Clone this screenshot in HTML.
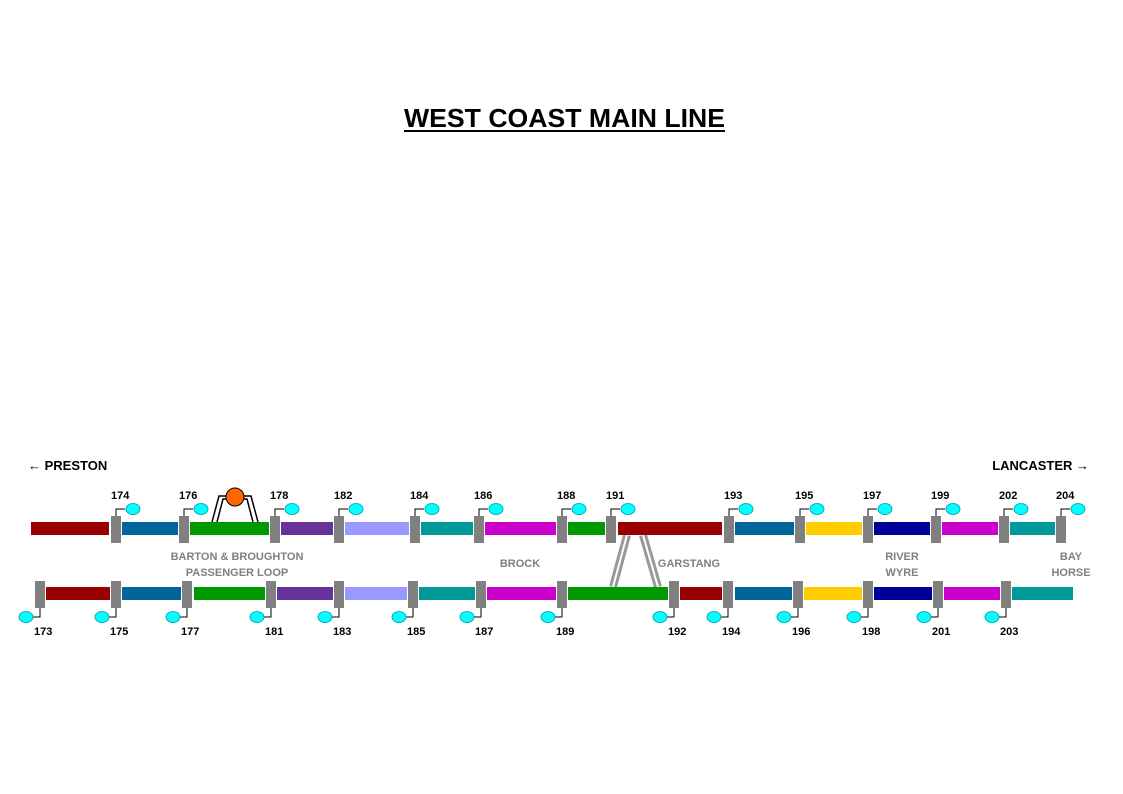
<!DOCTYPE html>
<html><head><style>body{margin:0;background:#fff}svg{display:block}</style></head><body>
<svg width="1123" height="794" xmlns="http://www.w3.org/2000/svg" font-family="Liberation Sans, Arial, sans-serif">
<text x="404" y="127" font-size="26" font-weight="bold" textLength="321" lengthAdjust="spacingAndGlyphs">WEST COAST MAIN LINE</text>
<line x1="404" y1="131" x2="725" y2="131" stroke="#000" stroke-width="2"/>
<text x="28" y="470" font-size="13" font-weight="bold">← PRESTON</text>
<text x="1089" y="470" font-size="13" font-weight="bold" text-anchor="end">LANCASTER →</text>
<g stroke="#000" stroke-width="1.5" fill="none">
<path d="M212,522 L219,496 L226,496"/><path d="M217,522 L223,499 L227,499"/>
<path d="M258,522 L251,496 L244,496"/><path d="M253,522 L247,499 L243,499"/>
</g>
<circle cx="235" cy="497" r="9" fill="#f60" stroke="#000" stroke-width="1"/>
<g stroke="#999" stroke-width="8" fill="none"><line x1="627" y1="535" x2="613" y2="587"/><line x1="643" y1="535" x2="658" y2="587"/></g>
<g stroke="#fff" stroke-width="2" fill="none"><line x1="627" y1="535" x2="613" y2="587"/><line x1="643" y1="535" x2="658" y2="587"/></g>
<g>
<rect x="31" y="522" width="78" height="13" fill="#990000"/>
<rect x="122" y="522" width="56" height="13" fill="#006699"/>
<rect x="190" y="522" width="79" height="13" fill="#009900"/>
<rect x="281" y="522" width="52" height="13" fill="#663399"/>
<rect x="345" y="522" width="64" height="13" fill="#9999ff"/>
<rect x="421" y="522" width="52" height="13" fill="#009999"/>
<rect x="485" y="522" width="71" height="13" fill="#cc00cc"/>
<rect x="568" y="522" width="37" height="13" fill="#009900"/>
<rect x="618" y="522" width="104" height="13" fill="#990000"/>
<rect x="735" y="522" width="59" height="13" fill="#006699"/>
<rect x="806" y="522" width="56" height="13" fill="#ffcc00"/>
<rect x="874" y="522" width="56" height="13" fill="#000099"/>
<rect x="942" y="522" width="56" height="13" fill="#cc00cc"/>
<rect x="1010" y="522" width="45" height="13" fill="#009999"/>
</g>
<g>
<rect x="46" y="587" width="64" height="13" fill="#990000"/>
<rect x="122" y="587" width="59" height="13" fill="#006699"/>
<rect x="194" y="587" width="71" height="13" fill="#009900"/>
<rect x="277" y="587" width="56" height="13" fill="#663399"/>
<rect x="345" y="587" width="62" height="13" fill="#9999ff"/>
<rect x="419" y="587" width="56" height="13" fill="#009999"/>
<rect x="487" y="587" width="69" height="13" fill="#cc00cc"/>
<rect x="568" y="587" width="100" height="13" fill="#009900"/>
<rect x="680" y="587" width="42" height="13" fill="#990000"/>
<rect x="735" y="587" width="57" height="13" fill="#006699"/>
<rect x="804" y="587" width="58" height="13" fill="#ffcc00"/>
<rect x="874" y="587" width="58" height="13" fill="#000099"/>
<rect x="944" y="587" width="56" height="13" fill="#cc00cc"/>
<rect x="1012" y="587" width="61" height="13" fill="#009999"/>
</g>
<g font-size="11" font-weight="bold" fill="#000">
<g transform="translate(111,0)"><rect x="0" y="516" width="10" height="27" fill="#808080"/><path d="M5,516 V509 H14" stroke="#000" fill="none"/><ellipse cx="22" cy="509" rx="7" ry="5.5" fill="#00ffff" stroke="#0099aa" stroke-width="0.8"/><text x="0" y="499">174</text></g>
<g transform="translate(179,0)"><rect x="0" y="516" width="10" height="27" fill="#808080"/><path d="M5,516 V509 H14" stroke="#000" fill="none"/><ellipse cx="22" cy="509" rx="7" ry="5.5" fill="#00ffff" stroke="#0099aa" stroke-width="0.8"/><text x="0" y="499">176</text></g>
<g transform="translate(270,0)"><rect x="0" y="516" width="10" height="27" fill="#808080"/><path d="M5,516 V509 H14" stroke="#000" fill="none"/><ellipse cx="22" cy="509" rx="7" ry="5.5" fill="#00ffff" stroke="#0099aa" stroke-width="0.8"/><text x="0" y="499">178</text></g>
<g transform="translate(334,0)"><rect x="0" y="516" width="10" height="27" fill="#808080"/><path d="M5,516 V509 H14" stroke="#000" fill="none"/><ellipse cx="22" cy="509" rx="7" ry="5.5" fill="#00ffff" stroke="#0099aa" stroke-width="0.8"/><text x="0" y="499">182</text></g>
<g transform="translate(410,0)"><rect x="0" y="516" width="10" height="27" fill="#808080"/><path d="M5,516 V509 H14" stroke="#000" fill="none"/><ellipse cx="22" cy="509" rx="7" ry="5.5" fill="#00ffff" stroke="#0099aa" stroke-width="0.8"/><text x="0" y="499">184</text></g>
<g transform="translate(474,0)"><rect x="0" y="516" width="10" height="27" fill="#808080"/><path d="M5,516 V509 H14" stroke="#000" fill="none"/><ellipse cx="22" cy="509" rx="7" ry="5.5" fill="#00ffff" stroke="#0099aa" stroke-width="0.8"/><text x="0" y="499">186</text></g>
<g transform="translate(557,0)"><rect x="0" y="516" width="10" height="27" fill="#808080"/><path d="M5,516 V509 H14" stroke="#000" fill="none"/><ellipse cx="22" cy="509" rx="7" ry="5.5" fill="#00ffff" stroke="#0099aa" stroke-width="0.8"/><text x="0" y="499">188</text></g>
<g transform="translate(606,0)"><rect x="0" y="516" width="10" height="27" fill="#808080"/><path d="M5,516 V509 H14" stroke="#000" fill="none"/><ellipse cx="22" cy="509" rx="7" ry="5.5" fill="#00ffff" stroke="#0099aa" stroke-width="0.8"/><text x="0" y="499">191</text></g>
<g transform="translate(724,0)"><rect x="0" y="516" width="10" height="27" fill="#808080"/><path d="M5,516 V509 H14" stroke="#000" fill="none"/><ellipse cx="22" cy="509" rx="7" ry="5.5" fill="#00ffff" stroke="#0099aa" stroke-width="0.8"/><text x="0" y="499">193</text></g>
<g transform="translate(795,0)"><rect x="0" y="516" width="10" height="27" fill="#808080"/><path d="M5,516 V509 H14" stroke="#000" fill="none"/><ellipse cx="22" cy="509" rx="7" ry="5.5" fill="#00ffff" stroke="#0099aa" stroke-width="0.8"/><text x="0" y="499">195</text></g>
<g transform="translate(863,0)"><rect x="0" y="516" width="10" height="27" fill="#808080"/><path d="M5,516 V509 H14" stroke="#000" fill="none"/><ellipse cx="22" cy="509" rx="7" ry="5.5" fill="#00ffff" stroke="#0099aa" stroke-width="0.8"/><text x="0" y="499">197</text></g>
<g transform="translate(931,0)"><rect x="0" y="516" width="10" height="27" fill="#808080"/><path d="M5,516 V509 H14" stroke="#000" fill="none"/><ellipse cx="22" cy="509" rx="7" ry="5.5" fill="#00ffff" stroke="#0099aa" stroke-width="0.8"/><text x="0" y="499">199</text></g>
<g transform="translate(999,0)"><rect x="0" y="516" width="10" height="27" fill="#808080"/><path d="M5,516 V509 H14" stroke="#000" fill="none"/><ellipse cx="22" cy="509" rx="7" ry="5.5" fill="#00ffff" stroke="#0099aa" stroke-width="0.8"/><text x="0" y="499">202</text></g>
<g transform="translate(1056,0)"><rect x="0" y="516" width="10" height="27" fill="#808080"/><path d="M5,516 V509 H14" stroke="#000" fill="none"/><ellipse cx="22" cy="509" rx="7" ry="5.5" fill="#00ffff" stroke="#0099aa" stroke-width="0.8"/><text x="0" y="499">204</text></g>
</g>
<g font-size="11" font-weight="bold" fill="#000">
<g transform="translate(35,0)"><rect x="0" y="581" width="10" height="27" fill="#808080"/><path d="M5,608 V617 H-2" stroke="#000" fill="none"/><ellipse cx="-9" cy="617" rx="7" ry="5.5" fill="#00ffff" stroke="#0099aa" stroke-width="0.8"/><text x="-1" y="635">173</text></g>
<g transform="translate(111,0)"><rect x="0" y="581" width="10" height="27" fill="#808080"/><path d="M5,608 V617 H-2" stroke="#000" fill="none"/><ellipse cx="-9" cy="617" rx="7" ry="5.5" fill="#00ffff" stroke="#0099aa" stroke-width="0.8"/><text x="-1" y="635">175</text></g>
<g transform="translate(182,0)"><rect x="0" y="581" width="10" height="27" fill="#808080"/><path d="M5,608 V617 H-2" stroke="#000" fill="none"/><ellipse cx="-9" cy="617" rx="7" ry="5.5" fill="#00ffff" stroke="#0099aa" stroke-width="0.8"/><text x="-1" y="635">177</text></g>
<g transform="translate(266,0)"><rect x="0" y="581" width="10" height="27" fill="#808080"/><path d="M5,608 V617 H-2" stroke="#000" fill="none"/><ellipse cx="-9" cy="617" rx="7" ry="5.5" fill="#00ffff" stroke="#0099aa" stroke-width="0.8"/><text x="-1" y="635">181</text></g>
<g transform="translate(334,0)"><rect x="0" y="581" width="10" height="27" fill="#808080"/><path d="M5,608 V617 H-2" stroke="#000" fill="none"/><ellipse cx="-9" cy="617" rx="7" ry="5.5" fill="#00ffff" stroke="#0099aa" stroke-width="0.8"/><text x="-1" y="635">183</text></g>
<g transform="translate(408,0)"><rect x="0" y="581" width="10" height="27" fill="#808080"/><path d="M5,608 V617 H-2" stroke="#000" fill="none"/><ellipse cx="-9" cy="617" rx="7" ry="5.5" fill="#00ffff" stroke="#0099aa" stroke-width="0.8"/><text x="-1" y="635">185</text></g>
<g transform="translate(476,0)"><rect x="0" y="581" width="10" height="27" fill="#808080"/><path d="M5,608 V617 H-2" stroke="#000" fill="none"/><ellipse cx="-9" cy="617" rx="7" ry="5.5" fill="#00ffff" stroke="#0099aa" stroke-width="0.8"/><text x="-1" y="635">187</text></g>
<g transform="translate(557,0)"><rect x="0" y="581" width="10" height="27" fill="#808080"/><path d="M5,608 V617 H-2" stroke="#000" fill="none"/><ellipse cx="-9" cy="617" rx="7" ry="5.5" fill="#00ffff" stroke="#0099aa" stroke-width="0.8"/><text x="-1" y="635">189</text></g>
<g transform="translate(669,0)"><rect x="0" y="581" width="10" height="27" fill="#808080"/><path d="M5,608 V617 H-2" stroke="#000" fill="none"/><ellipse cx="-9" cy="617" rx="7" ry="5.5" fill="#00ffff" stroke="#0099aa" stroke-width="0.8"/><text x="-1" y="635">192</text></g>
<g transform="translate(723,0)"><rect x="0" y="581" width="10" height="27" fill="#808080"/><path d="M5,608 V617 H-2" stroke="#000" fill="none"/><ellipse cx="-9" cy="617" rx="7" ry="5.5" fill="#00ffff" stroke="#0099aa" stroke-width="0.8"/><text x="-1" y="635">194</text></g>
<g transform="translate(793,0)"><rect x="0" y="581" width="10" height="27" fill="#808080"/><path d="M5,608 V617 H-2" stroke="#000" fill="none"/><ellipse cx="-9" cy="617" rx="7" ry="5.5" fill="#00ffff" stroke="#0099aa" stroke-width="0.8"/><text x="-1" y="635">196</text></g>
<g transform="translate(863,0)"><rect x="0" y="581" width="10" height="27" fill="#808080"/><path d="M5,608 V617 H-2" stroke="#000" fill="none"/><ellipse cx="-9" cy="617" rx="7" ry="5.5" fill="#00ffff" stroke="#0099aa" stroke-width="0.8"/><text x="-1" y="635">198</text></g>
<g transform="translate(933,0)"><rect x="0" y="581" width="10" height="27" fill="#808080"/><path d="M5,608 V617 H-2" stroke="#000" fill="none"/><ellipse cx="-9" cy="617" rx="7" ry="5.5" fill="#00ffff" stroke="#0099aa" stroke-width="0.8"/><text x="-1" y="635">201</text></g>
<g transform="translate(1001,0)"><rect x="0" y="581" width="10" height="27" fill="#808080"/><path d="M5,608 V617 H-2" stroke="#000" fill="none"/><ellipse cx="-9" cy="617" rx="7" ry="5.5" fill="#00ffff" stroke="#0099aa" stroke-width="0.8"/><text x="-1" y="635">203</text></g>
</g>
<g font-size="11" font-weight="bold" fill="#808080" text-anchor="middle">
<text x="237" y="560">BARTON &amp; BROUGHTON</text>
<text x="237" y="576">PASSENGER LOOP</text>
<text x="520" y="567">BROCK</text>
<text x="689" y="567">GARSTANG</text>
<text x="902" y="560">RIVER</text>
<text x="902" y="576">WYRE</text>
<text x="1071" y="560">BAY</text>
<text x="1071" y="576">HORSE</text>
</g>
</svg>
</body></html>
